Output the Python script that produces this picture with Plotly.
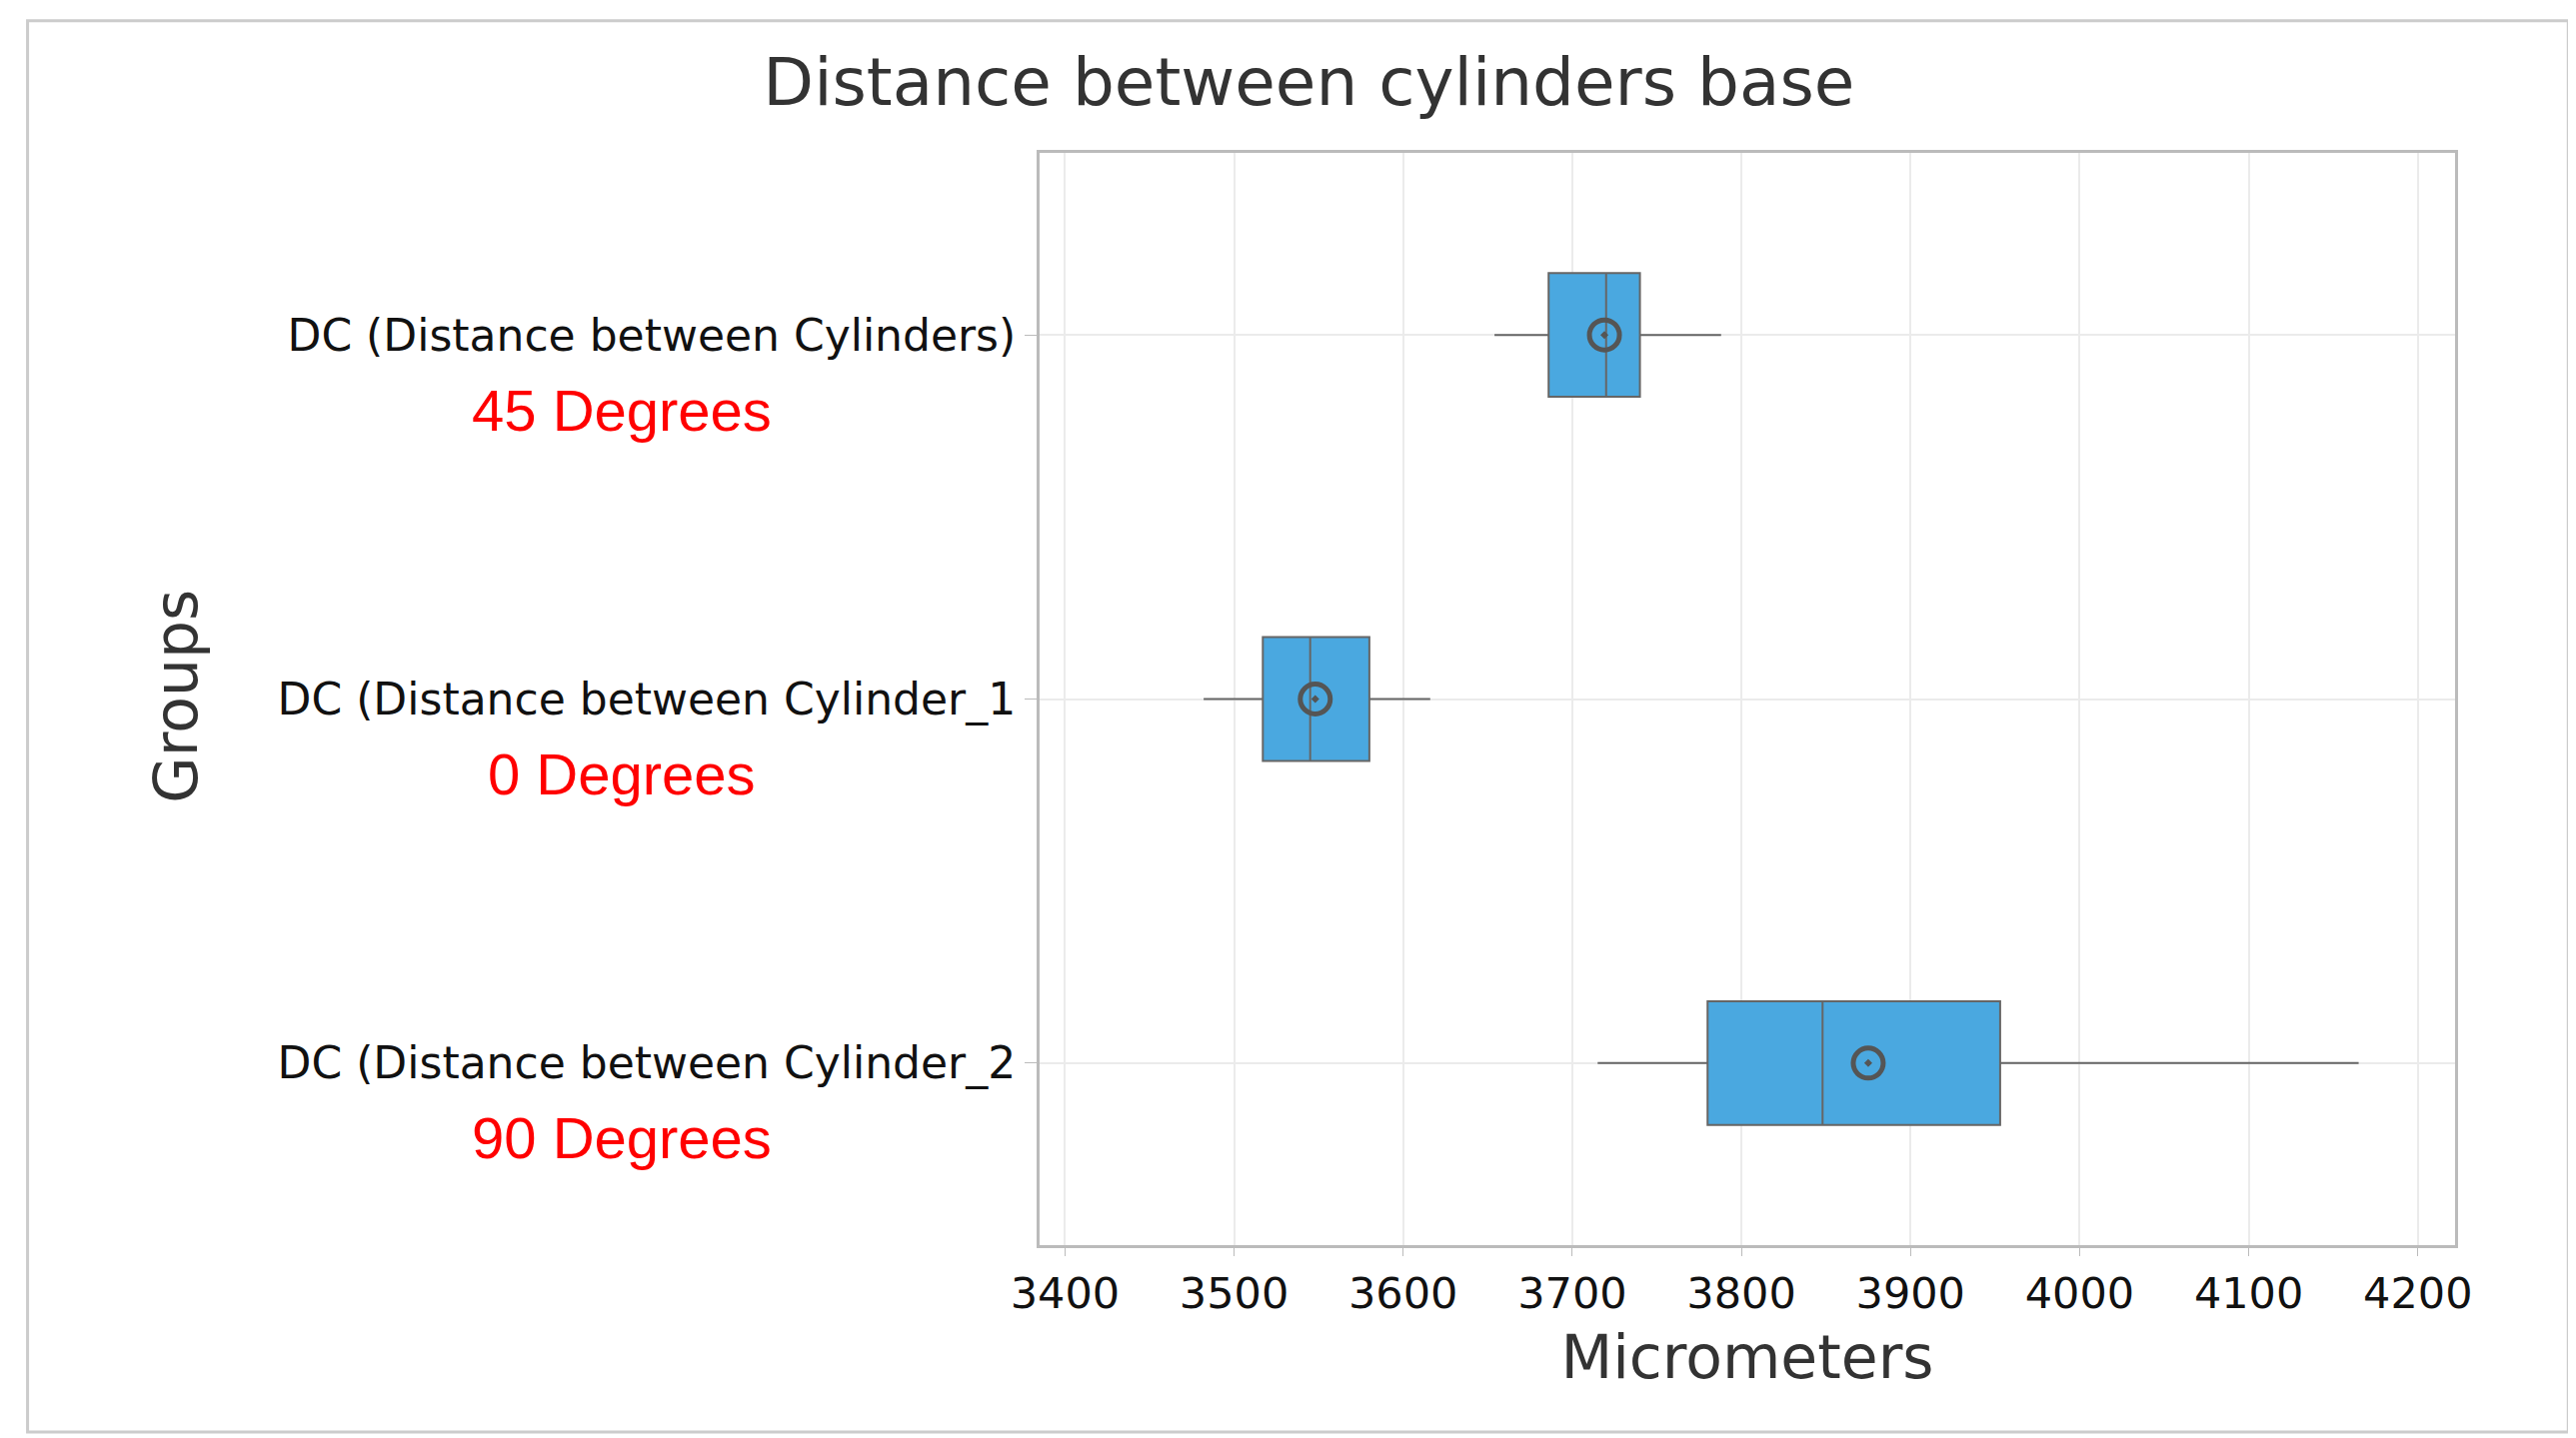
import plotly.graph_objects as go

# Box summary values (micrometers)
groups = ["DC (Distance between Cylinder_2", "DC (Distance between Cylinder_1", "DC (Distance between Cylinders)"]
angles = ["90 Degrees", "0 Degrees", "45 Degrees"]
lower = [3715, 3482, 3654]
q1 = [3780, 3517, 3686]
median = [3848, 3545, 3720]
q3 = [3953, 3580, 3740]
upper = [4165, 3616, 3788]
means = [3875, 3548, 3719]

fig = go.Figure()
fig.add_trace(go.Box(
    y=groups, q1=q1, median=median, q3=q3, lowerfence=lower, upperfence=upper,
    orientation="h", width=0.34, whiskerwidth=0,
    fillcolor="#4aa8e0", line=dict(color="#666666", width=2),
    showlegend=False, hoverinfo="skip"))
fig.add_trace(go.Scatter(
    x=means, y=groups, mode="markers",
    marker=dict(symbol="circle-open-dot", size=30, color="#555555", line=dict(width=5)),
    showlegend=False))

for g, a in zip(groups, angles):
    fig.add_annotation(x=-0.295, xref="paper", xanchor="center", y=g, yref="y", text=a,
                       showarrow=False, yshift=-75,
                       font=dict(family="Liberation Sans, Arial", size=58, color="red"))

fig.add_annotation(x=-0.636, xref="paper", y=0.503, yref="paper", text="Groups", textangle=-90,
                   showarrow=False, font=dict(size=60, color="#333333"))

fig.update_layout(
    width=2577, height=1439,
    paper_bgcolor="white", plot_bgcolor="white",
    font=dict(family="DejaVu Sans", color="#222222"),
    title=dict(text="Distance between cylinders base", x=0.505, y=0.965, xanchor="center",
               font=dict(size=66, color="#333333")),
    margin=dict(l=1032, r=2577 - 2448, t=145, b=1439 - 1238),
    xaxis=dict(range=[3385, 4222], tickvals=[3400, 3500, 3600, 3700, 3800, 3900, 4000, 4100, 4200],
               showgrid=True, gridcolor="#ebebeb", gridwidth=2,
               showline=True, linecolor="#bbbbbb", linewidth=3, mirror=True,
               ticks="outside", ticklen=8, tickcolor="#bbbbbb", tickfont=dict(size=43, color="#111111"),
               title=dict(text="Micrometers", font=dict(size=60, color="#333333"), standoff=20),
               zeroline=False),
    yaxis=dict(categoryorder="array", categoryarray=groups, range=[-0.5, 2.5],
               showgrid=True, gridcolor="#ebebeb", gridwidth=2,
               showline=True, linecolor="#bbbbbb", linewidth=3, mirror=True,
               ticks="outside", ticklen=12, tickcolor="#bbbbbb", tickfont=dict(size=44, color="#111111")),
)
fig.add_shape(type="rect", xref="paper", yref="paper", x0=-0.715, x1=1.08, y0=-0.171, y1=1.121,
              line=dict(color="#cccccc", width=3))
fig.write_html("out.html")
